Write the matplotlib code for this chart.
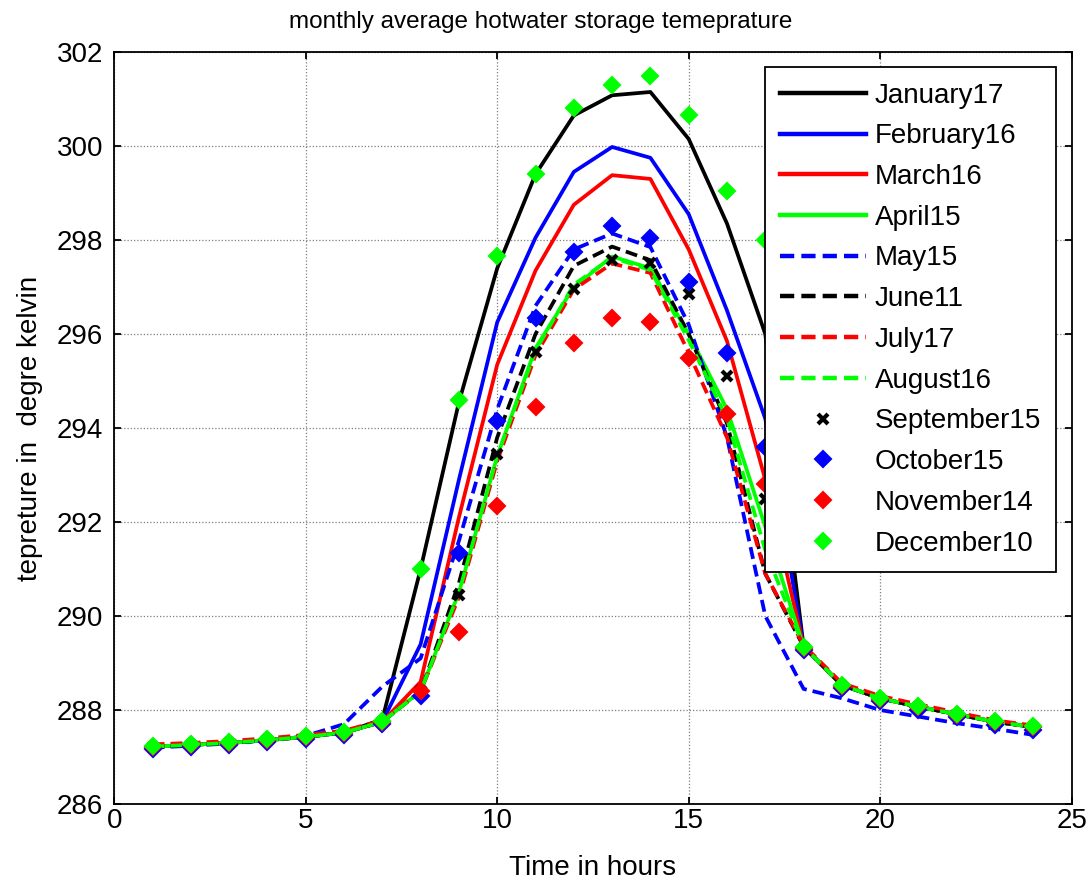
import numpy as np
import matplotlib.pyplot as plt

plt.rcParams['font.family'] = ['Liberation Sans', 'DejaVu Sans']

# ------------------------------------------------------------------
# hourly average storage temperature (K), hours 1..24
hours = np.arange(1, 25)

jan17 = [287.22, 287.26, 287.30, 287.36, 287.43, 287.52, 287.80, 291.00,
         294.55, 297.40, 299.40, 300.65, 301.08, 301.15, 300.15, 298.35,
         296.00, 289.35, 288.53, 288.25, 288.07, 287.91, 287.75, 287.64]
feb16 = [287.22, 287.26, 287.30, 287.36, 287.43, 287.52, 287.75, 289.40,
         292.90, 296.25, 298.05, 299.45, 299.98, 299.75, 298.55, 296.50,
         294.20, 289.35, 288.53, 288.25, 288.07, 287.91, 287.75, 287.64]
mar16 = [287.22, 287.26, 287.30, 287.36, 287.43, 287.52, 287.75, 288.60,
         292.10, 295.35, 297.35, 298.75, 299.38, 299.30, 297.80, 295.85,
         292.90, 289.35, 288.53, 288.25, 288.07, 287.91, 287.75, 287.64]
apr15 = [287.22, 287.26, 287.30, 287.36, 287.43, 287.52, 287.75, 288.40,
         290.50, 293.40, 295.70, 297.00, 297.65, 297.40, 296.00, 294.40,
         291.90, 289.35, 288.53, 288.25, 288.07, 287.91, 287.75, 287.64]
may15 = [287.20, 287.24, 287.29, 287.36, 287.45, 287.70, 288.50, 289.10,
         291.60, 294.40, 296.60, 297.80, 298.14, 297.85, 296.20, 293.80,
         290.00, 288.45, 288.25, 288.00, 287.86, 287.72, 287.60, 287.47]
jun11 = [287.22, 287.26, 287.30, 287.36, 287.43, 287.52, 287.75, 288.40,
         290.70, 293.80, 296.00, 297.45, 297.86, 297.57, 296.00, 294.10,
         290.90, 289.35, 288.53, 288.25, 288.07, 287.91, 287.75, 287.64]
jul17 = [287.27, 287.30, 287.34, 287.40, 287.47, 287.56, 287.78, 288.40,
         290.40, 293.30, 295.55, 296.95, 297.50, 297.30, 295.60, 293.80,
         290.90, 289.38, 288.57, 288.30, 288.12, 287.95, 287.78, 287.67]
aug16 = [287.22, 287.26, 287.30, 287.36, 287.43, 287.52, 287.75, 288.40,
         290.50, 293.40, 295.65, 297.05, 297.63, 297.36, 295.87, 294.20,
         291.40, 289.35, 288.53, 288.25, 288.07, 287.91, 287.75, 287.64]

sep15 = [287.22, 287.26, 287.30, 287.36, 287.43, 287.52, 287.75, 288.40,
         290.45, 293.45, 295.62, 296.95, 297.57, 297.52, 296.85, 295.10,
         292.50, 289.33, 288.52, 288.24, 288.06, 287.90, 287.74, 287.63]
oct15 = [287.17, 287.21, 287.25, 287.31, 287.38, 287.47, 287.70, 288.30,
         291.35, 294.15, 296.35, 297.75, 298.30, 298.05, 297.10, 295.60,
         293.60, 289.28, 288.47, 288.19, 288.01, 287.85, 287.69, 287.58]
nov14 = [287.22, 287.26, 287.30, 287.36, 287.43, 287.52, 287.75, 288.40,
         289.65, 292.35, 294.45, 295.80, 296.35, 296.25, 295.50, 294.30,
         292.80, 289.33, 288.52, 288.24, 288.06, 287.90, 287.74, 287.63]
dec10 = [287.24, 287.28, 287.32, 287.38, 287.45, 287.54, 287.77, 291.00,
         294.60, 297.65, 299.40, 300.80, 301.30, 301.50, 300.65, 299.05,
         298.00, 289.35, 288.54, 288.26, 288.08, 287.92, 287.76, 287.65]

line_series = [
    ("January17", jan17, "k", "-"),
    ("February16", feb16, "#0000ff", "-"),
    ("March16", mar16, "#ff0000", "-"),
    ("April15", apr15, "#00ff00", "-"),
    ("May15", may15, "#0000ff", "--"),
    ("June11", jun11, "k", "--"),
    ("July17", jul17, "#ff0000", "--"),
    ("August16", aug16, "#00ff00", "--"),
]
marker_series = [
    ("September15", sep15, "k", "x"),
    ("October15", oct15, "#0000ff", "D"),
    ("November14", nov14, "#ff0000", "D"),
    ("December10", dec10, "#00ff00", "D"),
]

# ------------------------------------------------------------------
fig = plt.figure(figsize=(10.88, 8.82), dpi=100)
ax = fig.add_axes([0.105, 0.0884, 0.880, 0.8526])

for name, vals, col, ls in line_series:
    kw = dict(dashes=(3.2, 1.6)) if ls == "--" else {}
    ax.plot(hours, vals, color=col, ls=ls, lw=2.7, label=name, **kw)

for name, vals, col, mk in marker_series:
    if mk == "x":
        ax.plot(hours, vals, ls="none", marker="x", color=col,
                ms=7, mew=3, label=name)
    else:
        ax.plot(hours, vals, ls="none", marker="D", color=col,
                ms=8.5, mew=1.5, label=name)

ax.set_xlim(0, 25)
ax.set_ylim(286, 302)
ax.set_xticks(np.arange(0, 26, 5))
ax.set_yticks(np.arange(286, 303, 2))
ax.grid(True, color="#7f7f7f", ls=(0, (1, 1.6)), lw=0.9)
ax.tick_params(direction="in", length=5, width=1.3, labelsize=20,
               top=True, right=True)
ax.tick_params(axis="y", pad=8)
ax.tick_params(axis="x", pad=3)
for sp in ax.spines.values():
    sp.set_linewidth(1.3)

ax.set_xlabel("Time in hours", fontsize=20, labelpad=15)
ax.set_ylabel("tepreture in  degre kelvin", fontsize=20, labelpad=10)
ax.set_title("monthly average hotwater storage temeprature",
             fontsize=17.5, pad=17, x=0.445)

leg = ax.legend(loc="upper right", fontsize=20, handlelength=3.1,
                handletextpad=0.3, labelspacing=0.53, borderaxespad=0.55,
                borderpad=0.55, fancybox=False, framealpha=1,
                edgecolor="k")
leg.get_frame().set_linewidth(1.3)
for h in leg.legend_handles[:8]:
    h.set_linewidth(3.2)

fig.savefig("out.png", dpi=100)
